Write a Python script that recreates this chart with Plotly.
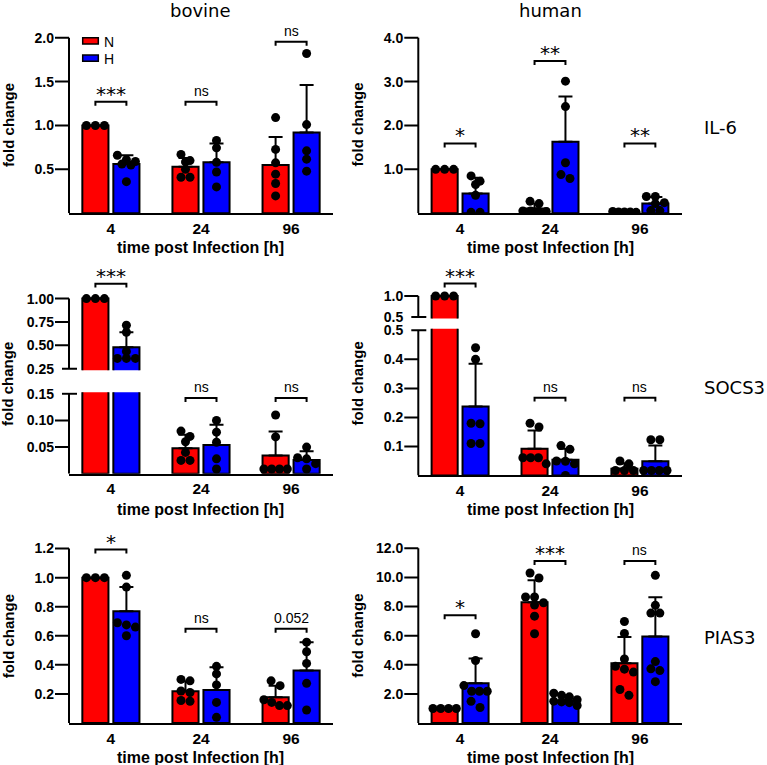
import numpy as np
import plotly.graph_objects as go

W, H = 767, 765

# ---------------- data ----------------
categories = ["4", "24", "96"]
species = ["bovine", "human"]
genes = ["IL-6", "SOCS3", "PIAS3"]
legend_groups = ["N", "H"]

# bovine IL-6
bov_il6_N_mean = [1.00, 0.53, 0.55]
bov_il6_N_sd = [0.00, 0.10, 0.32]
bov_il6_H_mean = [0.56, 0.58, 0.92]
bov_il6_H_sd = [0.10, 0.215, 0.54]
bov_il6_N_pts = [[1.0, 1.0, 1.0], [0.67, 0.60, 0.585, 0.50, 0.41, 0.41], [1.09, 0.727, 0.574, 0.445, 0.339, 0.197]]
bov_il6_H_pts = [[0.66, 0.61, 0.59, 0.56, 0.55, 0.36], [0.83, 0.745, 0.58, 0.47, 0.30], [1.82, 1.01, 0.711, 0.616, 0.479]]
bov_il6_sig = ["***", "ns", "ns"]
bov_il6_sig_y = [1.27, 1.27, 1.954]
bov_il6_ticks = [0.5, 1.0, 1.5, 2.0]
bov_il6_ticktext = ["0.5", "1.0", "1.5", "2.0"]

# human IL-6
hum_il6_N_mean = [1.00, 0.11, 0.03]
hum_il6_N_sd = [0.00, 0.11, 0.012]
hum_il6_H_mean = [0.45, 1.63, 0.22]
hum_il6_H_sd = [0.36, 1.03, 0.15]
hum_il6_N_pts = [[1.0, 1.0, 1.0], [0.27, 0.22, 0.05, 0.05, 0.04, 0.04], [0.04, 0.03, 0.03, 0.03, 0.02]]
hum_il6_H_pts = [[0.85, 0.73, 0.655, 0.41, 0.02, 0.02], [3.01, 2.43, 1.15, 0.88, 0.79], [0.38, 0.38, 0.24, 0.22, 0.06, 0.06]]
hum_il6_sig = ["*", "**", "**"]
hum_il6_sig_y = [1.59, 3.47, 1.59]
hum_il6_ticks = [1.0, 2.0, 3.0, 4.0]
hum_il6_ticktext = ["1.0", "2.0", "3.0", "4.0"]

# bovine SOCS3 (broken axis)
bov_socs3_N_mean = [1.00, 0.048, 0.034]
bov_socs3_N_sd = [0.00, 0.025, 0.045]
bov_socs3_H_mean = [0.48, 0.054, 0.026]
bov_socs3_H_sd = [0.16, 0.038, 0.016]
bov_socs3_N_pts = [[1.0, 1.0, 1.0], [0.08, 0.07, 0.06, 0.04, 0.025, 0.025], [0.11, 0.069, 0.009, 0.009, 0.009, 0.009]]
bov_socs3_H_pts = [[0.715, 0.64, 0.435, 0.36, 0.36, 0.36], [0.10, 0.078, 0.059, 0.028, 0.009], [0.05, 0.03, 0.028, 0.019, 0.009]]
bov_socs3_sig = ["***", "ns", "ns"]
bov_socs3_sig_y = [1.16, 0.142, 0.142]
bov_socs3_ticks_low = [0.05, 0.10, 0.15]
bov_socs3_ticktext_low = ["0.05", "0.10", "0.15"]
bov_socs3_ticks_up = [0.25, 0.50, 0.75, 1.00]
bov_socs3_ticktext_up = ["0.25", "0.50", "0.75", "1.00"]

# human SOCS3 (broken axis)
hum_socs3_N_mean = [1.00, 0.092, 0.023]
hum_socs3_N_sd = [0.00, 0.063, 0.019]
hum_socs3_H_mean = [0.238, 0.054, 0.049]
hum_socs3_H_sd = [0.147, 0.038, 0.054]
hum_socs3_N_pts = [[1.0, 1.0, 1.0], [0.18, 0.167, 0.061, 0.061, 0.061, 0.04], [0.05, 0.04, 0.017, 0.017, 0.017]]
hum_socs3_H_pts = [[0.44, 0.40, 0.18, 0.178, 0.11, 0.11], [0.103, 0.09, 0.05, 0.049, 0.04, 0.0], [0.123, 0.123, 0.017, 0.017, 0.017, 0.017]]
hum_socs3_sig = ["***", "ns", "ns"]
hum_socs3_sig_y = [1.295, 0.268, 0.268]
hum_socs3_ticks_low = [0.1, 0.2, 0.3, 0.4, 0.5]
hum_socs3_ticktext_low = ["0.1", "0.2", "0.3", "0.4", "0.5"]
hum_socs3_ticks_up = [0.5, 1.0]
hum_socs3_ticktext_up = ["0.5", "1.0"]

# bovine PIAS3
bov_pias3_N_mean = [1.00, 0.218, 0.177]
bov_pias3_N_sd = [0.00, 0.069, 0.08]
bov_pias3_H_mean = [0.768, 0.228, 0.361]
bov_pias3_H_sd = [0.167, 0.155, 0.195]
bov_pias3_N_pts = [[1.0, 1.0, 1.0], [0.30, 0.29, 0.22, 0.21, 0.155, 0.15], [0.29, 0.257, 0.16, 0.142, 0.12, 0.12]]
bov_pias3_H_pts = [[1.016, 0.935, 0.69, 0.675, 0.66, 0.60], [0.39, 0.338, 0.262, 0.142, 0.039], [0.556, 0.49, 0.41, 0.273, 0.09]]
bov_pias3_sig = ["*", "ns", "0.052"]
bov_pias3_sig_y = [1.193, 0.648, 0.648]
bov_pias3_ticks = [0.2, 0.4, 0.6, 0.8, 1.0, 1.2]
bov_pias3_ticktext = ["0.2", "0.4", "0.6", "0.8", "1.0", "1.2"]

# human PIAS3
hum_pias3_N_mean = [1.00, 8.3, 4.1]
hum_pias3_N_sd = [0.00, 1.5, 1.8]
hum_pias3_H_mean = [2.73, 1.5, 5.94]
hum_pias3_H_sd = [1.7, 0.4, 2.7]
hum_pias3_N_pts = [[1.0, 1.0, 1.0, 1.0], [10.3, 9.96, 8.65, 8.65, 8.26, 8.1, 7.34, 6.13], [6.97, 6.15, 4.4, 3.9, 3.7, 3.5, 2.3, 1.9]]
hum_pias3_H_pts = [[6.13, 4.29, 2.57, 2.18, 2.18, 2.18, 1.49, 1.07], [2.05, 1.9, 1.8, 1.6, 1.5, 1.45, 1.4, 1.2], [10.14, 8.08, 7.55, 7.55, 4.22, 3.72, 3.6, 2.84]]
hum_pias3_sig = ["*", "***", "ns"]
hum_pias3_sig_y = [7.4, 11.12, 11.12]
hum_pias3_ticks = [2, 4, 6, 8, 10, 12]
hum_pias3_ticktext = ["2.0", "4.0", "6.0", "8.0", "10.0", "12.0"]


# ---------------- layout configuration ----------------
def ty(py):
    # vertical pixel position in the page, compensated for the capture
    return (py - 7.0) / 0.982


def panel(col, N_mean, N_sd, H_mean, H_sd, N_pts, H_pts, sig, sig_y, segs):
    return dict(col=col, N_mean=N_mean, N_sd=N_sd, H_mean=H_mean, H_sd=H_sd,
                N_pts=N_pts, H_pts=H_pts, sig=sig, sig_y=sig_y, segs=segs)


panels = [
    panel(0, bov_il6_N_mean, bov_il6_N_sd, bov_il6_H_mean, bov_il6_H_sd, bov_il6_N_pts, bov_il6_H_pts,
          bov_il6_sig, bov_il6_sig_y,
          [dict(pxb=213.0, pxt=37.7, vb=0.0, vt=2.0, top=16, ticks=bov_il6_ticks, text=bov_il6_ticktext)]),
    panel(1, hum_il6_N_mean, hum_il6_N_sd, hum_il6_H_mean, hum_il6_H_sd, hum_il6_N_pts, hum_il6_H_pts,
          hum_il6_sig, hum_il6_sig_y,
          [dict(pxb=213.0, pxt=37.7, vb=0.0, vt=4.0, top=16, ticks=hum_il6_ticks, text=hum_il6_ticktext)]),
    panel(0, bov_socs3_N_mean, bov_socs3_N_sd, bov_socs3_H_mean, bov_socs3_H_sd, bov_socs3_N_pts, bov_socs3_H_pts,
          bov_socs3_sig, bov_socs3_sig_y,
          [dict(pxb=473.3, pxt=393.3, vb=0.0, vt=0.15, top=None, ticks=bov_socs3_ticks_low, text=bov_socs3_ticktext_low),
           dict(pxb=368.3, pxt=298.3, vb=0.25, vt=1.0, top=262, ticks=bov_socs3_ticks_up, text=bov_socs3_ticktext_up)]),
    panel(1, hum_socs3_N_mean, hum_socs3_N_sd, hum_socs3_H_mean, hum_socs3_H_sd, hum_socs3_N_pts, hum_socs3_H_pts,
          hum_socs3_sig, hum_socs3_sig_y,
          [dict(pxb=475.0, pxt=330.0, vb=0.0, vt=0.5, top=None, ticks=hum_socs3_ticks_low, text=hum_socs3_ticktext_low),
           dict(pxb=316.7, pxt=295.7, vb=0.5, vt=1.0, top=262, ticks=hum_socs3_ticks_up, text=hum_socs3_ticktext_up)]),
    panel(0, bov_pias3_N_mean, bov_pias3_N_sd, bov_pias3_H_mean, bov_pias3_H_sd, bov_pias3_N_pts, bov_pias3_H_pts,
          bov_pias3_sig, bov_pias3_sig_y,
          [dict(pxb=722.3, pxt=548.0, vb=0.0, vt=1.2, top=525, ticks=bov_pias3_ticks, text=bov_pias3_ticktext)]),
    panel(1, hum_pias3_N_mean, hum_pias3_N_sd, hum_pias3_H_mean, hum_pias3_H_sd, hum_pias3_N_pts, hum_pias3_H_pts,
          hum_pias3_sig, hum_pias3_sig_y,
          [dict(pxb=722.3, pxt=547.7, vb=0.0, vt=12.0, top=525, ticks=hum_pias3_ticks, text=hum_pias3_ticktext)]),
]

cols_px = [(69.0, 333.0), (418.3, 681.7)]
XR = [-0.465, 2.465]
BW = 0.29
OFFS = {"N": -0.317, "H": 0.027}
COLORS = {"N": "#ff0000", "H": "#0000ff"}
ARIAL = "Liberation Sans, Arial, sans-serif"
VERD = "DejaVu Sans, Verdana, sans-serif"


def swarm(vals, ppu_of, diam=9.0):
    order = sorted(range(len(vals)), key=lambda k: -vals[k])
    rows = []
    for k in order:
        if rows and abs(vals[rows[-1][0]] - vals[k]) * ppu_of(vals[k]) < 0.75 * diam:
            rows[-1].append(k)
        else:
            rows.append([k])
    offs = [0.0] * len(vals)
    for r in rows:
        n = len(r)
        step = 0.1 if n <= 3 else min(0.1, 0.26 / (n - 1))
        for j, k in enumerate(r):
            offs[k] = (j - (n - 1) / 2) * step
    return offs


fig = go.Figure()
layout = dict(width=W, height=H, margin=dict(l=0, r=0, t=0, b=0),
              plot_bgcolor="white", paper_bgcolor="white", showlegend=False,
              barmode="overlay")
shapes = []
annotations = []

yc = 0
for pi, P in enumerate(panels):
    xn = pi + 1
    xref = "x" if xn == 1 else f"x{xn}"
    xkey = "xaxis" if xn == 1 else f"xaxis{xn}"
    x0px, x1px = cols_px[P["col"]]
    wpx = x1px - x0px
    segs = P["segs"]
    nseg = len(segs)
    seg_info = []
    for si, S in enumerate(segs):
        yc += 1
        yref = "y" if yc == 1 else f"y{yc}"
        ykey = "yaxis" if yc == 1 else f"yaxis{yc}"
        pxb, pxt = ty(S["pxb"]), ty(S["pxt"])
        scale = (pxb - pxt) / (S["vt"] - S["vb"])
        lower_break = nseg > 1 and si > 0
        upper_break = nseg > 1 and si < nseg - 1
        pxb_dom = pxb + (1.5 if lower_break else 0.0)
        pxt_dom = (pxt - 1.5) if upper_break else ty(S["top"])
        r0 = S["vb"] - (pxb_dom - pxb) / scale
        r1 = S["vb"] + (pxb - pxt_dom) / scale
        layout[ykey] = dict(domain=[1 - pxb_dom / H, 1 - pxt_dom / H], range=[r0, r1], anchor=xref,
                            showline=False, showgrid=False, zeroline=False, ticks="",
                            tickmode="array", tickvals=S["ticks"], ticktext=S["text"],
                            tickfont=dict(family=ARIAL, size=14, color="black", weight="bold"),
                            ticklabelstandoff=14, fixedrange=True)
        lo = S["vb"] if lower_break else -1e9
        hi = S["vt"] if upper_break else 1e9
        seg_info.append(dict(yref=yref, scale=scale, vb=S["vb"], lo=lo, hi=hi))
        shapes.append(dict(type="line", xref=f"{xref} domain", yref=yref, x0=0, x1=0,
                           y0=S["vb"], y1=S["vt"], line=dict(color="black", width=2)))
        for v in S["ticks"]:
            is_break = (upper_break and abs(v - S["vt"]) < 1e-9) or (lower_break and abs(v - S["vb"]) < 1e-9)
            a, b = (-7 / wpx, 8 / wpx) if is_break else (-14 / wpx, 0)
            shapes.append(dict(type="line", xref=f"{xref} domain", yref=yref, x0=a, x1=b, y0=v, y1=v,
                               line=dict(color="black", width=2)))

    layout[xkey] = dict(domain=[x0px / W, x1px / W], range=XR, anchor=seg_info[0]["yref"],
                        showline=True, linecolor="black", linewidth=2, showgrid=False, zeroline=False,
                        tickmode="array", tickvals=[0, 1, 2], ticktext=categories,
                        ticks="", ticklabelstandoff=0,
                        tickfont=dict(family=ARIAL, size=15.5, color="black", weight="bold"),
                        fixedrange=True)

    def ppu_of(v, seg_info=seg_info):
        s = seg_info[-1] if v >= seg_info[-1]["vb"] else seg_info[0]
        return s["scale"]

    xs = np.arange(len(categories))
    # bars with SD error bars
    for g in legend_groups:
        for s in seg_info:
            fig.add_trace(go.Bar(
                x=xs, y=P[g + "_mean"], width=BW, offset=OFFS[g],
                xaxis=xref, yaxis=s["yref"],
                marker=dict(color=COLORS[g], line=dict(color="black", width=2)),
                error_y=dict(type="data", array=P[g + "_sd"], arrayminus=[0] * len(xs), symmetric=False,
                             color="black", thickness=2, width=7),
                hoverinfo="skip"))
    # individual points (each drawn in the axis segment where it lies)
    for g in legend_groups:
        px_, py_ = [], []
        for i in range(len(categories)):
            vals = P[g + "_pts"][i]
            offs = swarm(vals, ppu_of)
            for v, o in zip(vals, offs):
                px_.append(i + OFFS[g] + BW / 2 + o)
                py_.append(v)
        for s in seg_info:
            sel = [(a, b) for a, b in zip(px_, py_) if s["lo"] <= b <= s["hi"]]
            if not sel:
                continue
            fig.add_trace(go.Scatter(x=[a for a, _ in sel], y=[b for _, b in sel], mode="markers",
                                     xaxis=xref, yaxis=s["yref"],
                                     marker=dict(color="black", size=9, line=dict(width=0)),
                                     hoverinfo="skip"))
    # significance brackets
    for i in range(len(categories)):
        ys = P["sig_y"][i]
        s = seg_info[-1] if ys >= seg_info[-1]["vb"] else seg_info[0]
        tick = 4.0 / s["scale"]
        xl = i + OFFS["N"] + BW / 2
        xr = i + OFFS["H"] + BW / 2
        shapes.append(dict(type="path", xref=xref, yref=s["yref"],
                           path=f"M {xl},{ys - tick} L {xl},{ys} L {xr},{ys} L {xr},{ys - tick}",
                           line=dict(color="black", width=2)))
        txt = P["sig"][i]
        star = "*" in txt
        annotations.append(dict(xref=xref, yref=s["yref"], x=i, y=ys, text=txt, showarrow=False,
                                xanchor="center", yanchor="bottom", yshift=-6 if star else 1,
                                font=dict(family=VERD if star else ARIAL, size=20 if star else 14,
                                          color="black")))


def pa(xpx, ypx, text, size, family, bold=False, xanchor="center", angle=0):
    annotations.append(dict(xref="paper", yref="paper", x=xpx / W, y=1 - ty(ypx) / H, text=text,
                            showarrow=False, xanchor=xanchor, yanchor="middle", textangle=angle,
                            font=dict(family=family, size=size, color="black",
                                      weight="bold" if bold else "normal")))


# column titles
pa(200.5, 10, species[0], 18, VERD)
pa(550.0, 10, species[1], 18, VERD)
# gene labels
for gname, ypx in zip(genes, [127.0, 387.0, 636.5]):
    pa(702.0, ypx, gname, 18, VERD, xanchor="left")
# axis titles
for ypx in [125.0, 383.5, 635.5]:
    pa(8.0, ypx, "fold change", 15, ARIAL, bold=True, angle=-90)
    pa(357.5, ypx, "fold change", 15, ARIAL, bold=True, angle=-90)
for ypx in [247.0, 509.0, 756.5]:
    pa(201.0, ypx, "time post Infection [h]", 16, ARIAL, bold=True)
    pa(550.5, ypx, "time post Infection [h]", 16, ARIAL, bold=True)

# legend (top-left panel)
for g, (ytop, ybot, ytxt) in zip(legend_groups, [(37.7, 44.0, 41.5), (55.0, 61.3, 58.5)]):
    shapes.append(dict(type="rect", xref="paper", yref="paper", x0=82.7 / W, x1=98.3 / W,
                       y0=1 - ty(ybot) / H, y1=1 - ty(ytop) / H, fillcolor=COLORS[g],
                       line=dict(color="black", width=1.5)))
    pa(102.5, ytxt, g, 14, ARIAL, xanchor="left")

layout["shapes"] = shapes
layout["annotations"] = annotations
fig.update_layout(**layout)
fig.write_html("out.html", config={"displayModeBar": False},
               post_script="document.body.style.margin='0px';document.body.style.overflow='hidden';")
